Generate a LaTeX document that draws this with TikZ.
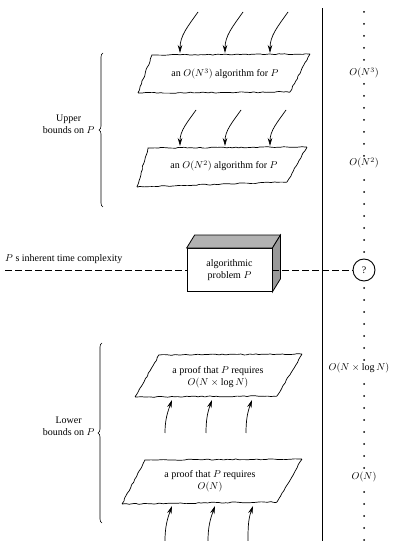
\documentclass[tikz,border=0pt]{standalone}
\usepackage{fontspec}
\setmainfont{Liberation Serif}
\usepackage{amsmath}
\usetikzlibrary{decorations.pathmorphing,decorations.pathreplacing,arrows.meta,calc}

\tikzset{
  rough/.style={decorate, decoration={random steps, segment length=3pt, amplitude=0.55pt}, rounded corners=0.6pt, line width=0.7pt},
  hand/.style={-{Stealth[length=8pt,width=4.5pt]}, line width=0.7pt},
  dashline/.style={dash pattern=on 7pt off 3pt, line width=0.8pt},
  boxtext/.style={align=center, font=\normalsize, inner sep=1pt},
  bigO/.style={fill=white, inner sep=1pt, font=\normalsize},
  bracelabel/.style={align=center, anchor=east, font=\normalsize}
}

\begin{document}
\begin{tikzpicture}[x=1pt, y=1pt]
\pgfmathsetseed{11}
\useasboundingbox (0,0) rectangle (394,541);

% Vertical separator
\draw[line width=0.9pt] (322,0) -- (322,533);

% Dotted time scale
\foreach \y in {1,13,...,529}
  \fill (364,\y) circle (1pt);

% Upper bounds: O(N^3) algorithm
\draw[rough] (152,486) -- (310,487) -- (290,449) -- (138,448) -- cycle;
\node[boxtext] (cubic) at (225,467) {an $O(N^3)$ algorithm for $P$};
\foreach \hx [count=\i] in {180,225,270} {
  \coordinate (ct\i) at (\hx+18,529);
  \coordinate (ch\i) at (\hx,488);
  \draw[hand] (ct\i) to[out=235,in=90] (ch\i);
}

% Upper bounds: O(N^2) algorithm
\draw[rough] (148,393) -- (307,394) -- (287,359) -- (137,354) -- cycle;
\node[boxtext] (quadratic) at (224,375) {an $O(N^2)$ algorithm for $P$};
\foreach \hx [count=\i] in {180,225,270} {
  \coordinate (qt\i) at (\hx+16,431);
  \coordinate (qh\i) at (\hx,395);
  \draw[hand] (qt\i) to[out=235,in=90] (qh\i);
}

% Brace for upper bounds
\draw[decorate, decoration={brace, amplitude=4pt}, line width=0.6pt] (103,334) -- (103,488);
\node[bracelabel] (upper) at (98,417) {Upper\\bounds on $P$};

% The problem itself (box)
\node[draw, fill=white, line width=0.8pt, minimum width=85pt, minimum height=43pt, align=center, inner sep=1pt] (prob) at (229.5,271) {algorithmic\\problem $P$};
\draw[fill=gray!60, line width=0.8pt] (prob.north west) -- ($(prob.north west)+(8,13)$) -- ($(prob.north east)+(8,13)$) -- (prob.north east) -- cycle;
\draw[fill=gray!80, line width=0.8pt] (prob.north east) -- ($(prob.north east)+(8,13)$) -- ($(prob.south east)+(8,13)$) -- (prob.south east) -- cycle;

% Inherent complexity line
\coordinate (start) at (5,271);
\node[draw, circle, line width=0.9pt, fill=white, minimum size=22pt, inner sep=0pt] (q) at (364,271) {?};
\draw[dashline] (start) -- (prob.west);
\draw[dashline] (prob.east) -- (q.west);
\node[anchor=west, inner sep=0pt] (inherent) at (5,282) {$P$ s inherent time complexity};

% Lower bounds: O(N log N) proof
\draw[rough] (159,186) -- (302,187) -- (277,145) -- (135,144) -- cycle;
\node[boxtext] (nlogn) at (218,164) {a proof that $P$ requires\\$O(N\times\log N)$};
\foreach \tx/\hx [count=\i] in {165/172,206/212,246/252} {
  \coordinate (nt\i) at (\tx,108);
  \coordinate (nh\i) at (\hx,141);
  \draw[hand] (nt\i) to[out=90,in=250] (nh\i);
}

% Lower bounds: O(N) proof
\draw[rough] (145,81) -- (302,82) -- (277,39) -- (122,37) -- cycle;
\node[boxtext] (linear) at (210,60) {a proof that $P$ requires\\$O(N)$};
\foreach \tx/\hx [count=\i] in {165/172,208/215,248/253} {
  \coordinate (lt\i) at (\tx,0);
  \coordinate (lh\i) at (\hx,35);
  \draw[hand] (lt\i) to[out=90,in=250] (lh\i);
}

% Brace for lower bounds
\draw[decorate, decoration={brace, amplitude=4pt}, line width=0.6pt] (102,18) -- (102,198);
\node[bracelabel] (lower) at (98,115) {Lower\\bounds on $P$};

% Labels on the time scale
\node[bigO] (rcubic) at (364,468) {$O(N^3)$};
\node[bigO] (rquad) at (364,378) {$O(N^2)$};
\node[bigO] (rnlogn) at (359,173) {$O(N\times\log N)$};
\node[bigO] (rlin) at (364,64) {$O(N)$};

\end{tikzpicture}
\end{document}
